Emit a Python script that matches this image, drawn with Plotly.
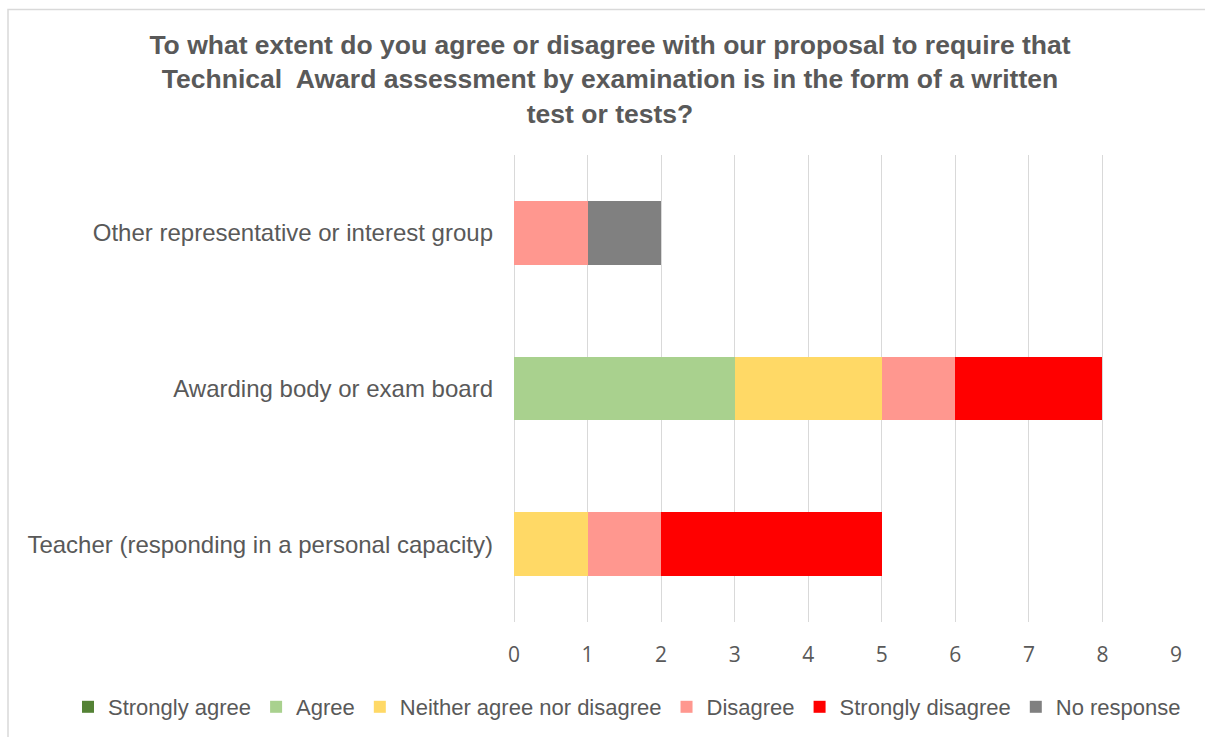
import plotly.graph_objects as go

# Respondent groups (bottom to top on the chart)
categories = [
    "Teacher (responding in a personal capacity)",
    "Awarding body or exam board",
    "Other representative or interest group",
]

# Number of responses per answer, aligned with categories
strongly_agree = [0, 0, 0]
agree = [0, 3, 0]
neither = [1, 2, 0]
disagree = [1, 1, 1]
strongly_disagree = [3, 2, 0]
no_response = [0, 0, 1]

series = [
    ("Strongly agree", strongly_agree, "#548235"),
    ("Agree", agree, "#A9D18E"),
    ("Neither agree nor disagree", neither, "#FFD966"),
    ("Disagree", disagree, "#FF978F"),
    ("Strongly disagree", strongly_disagree, "#FF0000"),
    ("No response", no_response, "#808080"),
]

TEXT = "#595959"
GRID = "#D9D9D9"

fig = go.Figure()
for name, vals, color in series:
    fig.add_trace(go.Bar(
        y=categories, x=vals, name=name, orientation="h",
        marker=dict(color=color, line=dict(width=0)),
        hoverinfo="skip",
    ))

W, H = 1205, 737
L, R, T, B = 514, 29, 155, 115
pw, ph = W - L - R, H - T - B

def px_x(v):
    return (v - L) / pw

def px_y(v):
    return (H - B - v) / ph

fig.update_layout(
    width=W, height=H,
    margin=dict(l=L, r=R, t=T, b=B, autoexpand=False),
    barmode="stack",
    bargap=0.59,
    plot_bgcolor="white",
    paper_bgcolor="white",
    font=dict(family="Liberation Sans, Arial, sans-serif", color=TEXT),
    title=dict(
        text="<b>To what extent do you agree or disagree with our proposal to require that<br>"
             "Technical  Award assessment by examination is in the form of a written<br>"
             "test or tests?</b>",
        xref="container", x=610 / W, xanchor="center",
        yref="container", y=1 - 54 / H, yanchor="middle",
        font=dict(size=26.5, color=TEXT),
    ),
    xaxis=dict(
        range=[0, 9], dtick=1, tick0=0,
        showgrid=True, gridcolor=GRID, gridwidth=1,
        zeroline=True, zerolinecolor=GRID, zerolinewidth=1,
        showline=False, ticks="",
        tickfont=dict(family="Open Sans, sans-serif", size=21, color=TEXT),
        ticklabelstandoff=18,
        fixedrange=True,
    ),
    yaxis=dict(
        showgrid=False, zeroline=False, showline=False, ticks="",
        tickfont=dict(size=24, color=TEXT),
        ticklabelstandoff=20,
        fixedrange=True,
    ),
    legend=dict(
        orientation="h",
        xref="paper", x=px_x(68), xanchor="left",
        yref="paper", y=px_y(707), yanchor="middle",
        font=dict(size=22, color=TEXT),
        traceorder="normal",
        itemwidth=30,
        tracegroupgap=0,
    ),
    shapes=[dict(
        type="rect", xref="paper", yref="paper",
        x0=px_x(8), x1=px_x(1215), y0=px_y(745), y1=px_y(9.5),
        line=dict(color=GRID, width=1.5), fillcolor="rgba(0,0,0,0)",
        layer="below",
    )],
)

fig.write_html("out.html")
